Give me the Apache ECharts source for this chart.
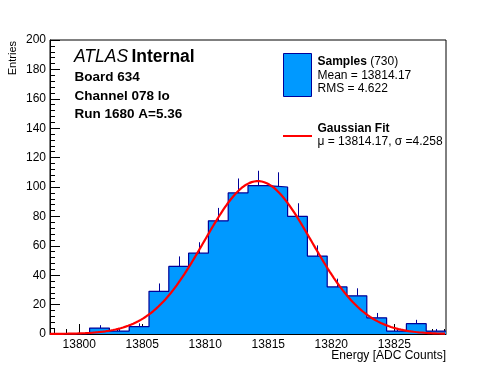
<!DOCTYPE html>
<html>
<head>
<meta charset="utf-8">
<script src="https://cdn.jsdelivr.net/npm/echarts@6/dist/echarts.min.js"></script>
<style>html,body{margin:0;padding:0;background:#fff;}#c{width:496px;height:372px;}</style>
</head>
<body>
<div id="c"></div>
<script>
// ---- data ----
const XMIN = 13797.68;
const XMAX = 13829.1;
const NBINS = 20;
const counts = [0, 0, 4, 2, 5, 29, 46, 55, 77, 96, 101, 100, 80, 53, 32, 26, 11, 2, 7, 2];
const xMajorTicks = [13800, 13805, 13810, 13815, 13820, 13825];
const xMinorTicks = [13798, 13799, 13801, 13802, 13803, 13804, 13806, 13807, 13808, 13809, 13811, 13812, 13813, 13814, 13816, 13817, 13818, 13819, 13821, 13822, 13823, 13824, 13826, 13827, 13828, 13829];
const fitMu = 13814.17;
const fitSigma = 4.258;
const fitAmp = 104;
const nEntries = 730;
const meanText = "13814.17";
const rmsText = "4.622";

// ---- build ----
const bw = (XMAX - XMIN) / NBINS;
const stepData = counts.map((c, i) => [XMIN + i * bw, c]);
stepData.push([XMAX, counts[counts.length - 1]]);
const errData = counts.map((c, i) => [XMIN + (i + 0.5) * bw, c, Math.sqrt(c)]);
const fitData = [];
for (let x = XMIN; x <= XMAX + 1e-9; x += 0.05) {
  fitData.push([x, fitAmp * Math.exp(-0.5 * Math.pow((x - fitMu) / fitSigma, 2))]);
}

const FONT = "'Liberation Sans', Arial, Helvetica, sans-serif";
const FILL = '#0099ff';
const EDGE = '#000099';

const chart = echarts.init(document.getElementById('c'), null, {renderer: 'canvas'});
chart.setOption({
  animation: false,
  grid: {left: 50, right: 50, top: 40, bottom: 38, show: true, borderColor: '#000', borderWidth: 1, backgroundColor: 'transparent'},
  xAxis: [{
    type: 'value', min: XMIN, max: XMAX, position: 'bottom',
    axisLine: {show: true, onZero: false, lineStyle: {color: '#000', width: 1}},
    axisTick: {show: true, inside: true, length: 10, customValues: xMajorTicks, lineStyle: {color: '#000'}},
    axisLabel: {show: true, customValues: xMajorTicks, color: '#000', fontSize: 12, fontFamily: FONT, margin: 5,
      formatter: v => String(Math.round(v))},
    splitLine: {show: false}
  }, {
    type: 'value', min: XMIN, max: XMAX, position: 'bottom',
    axisLine: {show: false},
    axisTick: {show: true, inside: true, length: 5, customValues: xMinorTicks, lineStyle: {color: '#000'}},
    axisLabel: {show: false},
    splitLine: {show: false}
  }],
  yAxis: [{
    type: 'value', min: 0, max: 200, interval: 20,
    axisLine: {show: true, lineStyle: {color: '#000', width: 1}},
    axisTick: {show: true, inside: true, length: 10, lineStyle: {color: '#000'}},
    minorTick: {show: true, splitNumber: 5, length: 5, lineStyle: {color: '#000'}},
    axisLabel: {color: '#000', fontSize: 12, fontFamily: FONT, margin: 4},
    splitLine: {show: false}
  }],
  series: [{
    type: 'custom', xAxisIndex: 0, yAxisIndex: 0, z: 1,
    data: errData,
    renderItem: function (params, api) {
      const x = api.value(0), y = api.value(1), e = api.value(2);
      if (!(y > 0)) return null;
      const p0 = api.coord([x, y]);
      const p1 = api.coord([x, y + e]);
      return {type: 'line', shape: {x1: Math.round(p0[0]) + 0.5, y1: p0[1], x2: Math.round(p1[0]) + 0.5, y2: p1[1]},
        style: {stroke: EDGE, lineWidth: 1}};
    }
  }, {
    type: 'line', xAxisIndex: 0, yAxisIndex: 0, z: 2,
    data: stepData, step: 'end', showSymbol: false, symbol: 'none',
    lineStyle: {color: EDGE, width: 1.2},
    areaStyle: {color: FILL, opacity: 1, origin: 'start'}
  }, {
    type: 'line', xAxisIndex: 0, yAxisIndex: 0, z: 3,
    data: fitData, showSymbol: false, symbol: 'none', smooth: false,
    lineStyle: {color: '#ff0000', width: 2.2}
  }],
  graphic: [
    {type: 'text', rotation: Math.PI / 2, x: 7, y: 41, style: {text: 'Entries', font: '11px ' + FONT, fill: '#000', align: 'right', verticalAlign: 'top'}},
    {type: 'text', x: 446, y: 355.5, style: {text: 'Energy [ADC Counts]', font: '12px ' + FONT, fill: '#000', align: 'right', verticalAlign: 'middle'}},
    {type: 'text', x: 74, y: 57, style: {
      text: '{a|ATLAS} {b|Internal}', verticalAlign: 'middle', align: 'left',
      rich: {a: {font: 'italic 17.5px ' + FONT, fill: '#000'}, b: {font: 'bold 17.5px ' + FONT, fill: '#000'}}}},
    {type: 'text', x: 74.5, y: 77, style: {text: 'Board 634', font: 'bold 13.5px ' + FONT, fill: '#000', verticalAlign: 'middle'}},
    {type: 'text', x: 74.5, y: 96, style: {text: 'Channel 078 lo', font: 'bold 13.5px ' + FONT, fill: '#000', verticalAlign: 'middle'}},
    {type: 'text', x: 74.5, y: 114.5, style: {text: 'Run 1680 A=5.36', font: 'bold 13.5px ' + FONT, fill: '#000', verticalAlign: 'middle'}},
    {type: 'rect', shape: {x: 283.5, y: 53.5, width: 28, height: 43}, style: {fill: FILL, stroke: EDGE, lineWidth: 1}},
    {type: 'text', x: 317.5, y: 62, style: {
      text: '{a|Samples} {b|(' + nEntries + ')}', verticalAlign: 'middle',
      rich: {a: {font: 'bold 12px ' + FONT, fill: '#000'}, b: {font: '12px ' + FONT, fill: '#000'}}}},
    {type: 'text', x: 317.5, y: 75.5, style: {text: 'Mean = ' + meanText, font: '12px ' + FONT, fill: '#000', verticalAlign: 'middle'}},
    {type: 'text', x: 317.5, y: 89, style: {text: 'RMS = ' + rmsText, font: '12px ' + FONT, fill: '#000', verticalAlign: 'middle'}},
    {type: 'line', shape: {x1: 283, y1: 136, x2: 312, y2: 136}, style: {stroke: '#ff0000', lineWidth: 2}},
    {type: 'text', x: 317.5, y: 128.5, style: {text: 'Gaussian Fit', font: 'bold 12px ' + FONT, fill: '#000', verticalAlign: 'middle'}},
    {type: 'text', x: 317.5, y: 141.5, style: {text: 'μ = ' + fitMu.toFixed(2) + ', σ =' + fitSigma.toFixed(3), font: '12px ' + FONT, fill: '#000', verticalAlign: 'middle'}}
  ]
});
</script>
</body>
</html>
